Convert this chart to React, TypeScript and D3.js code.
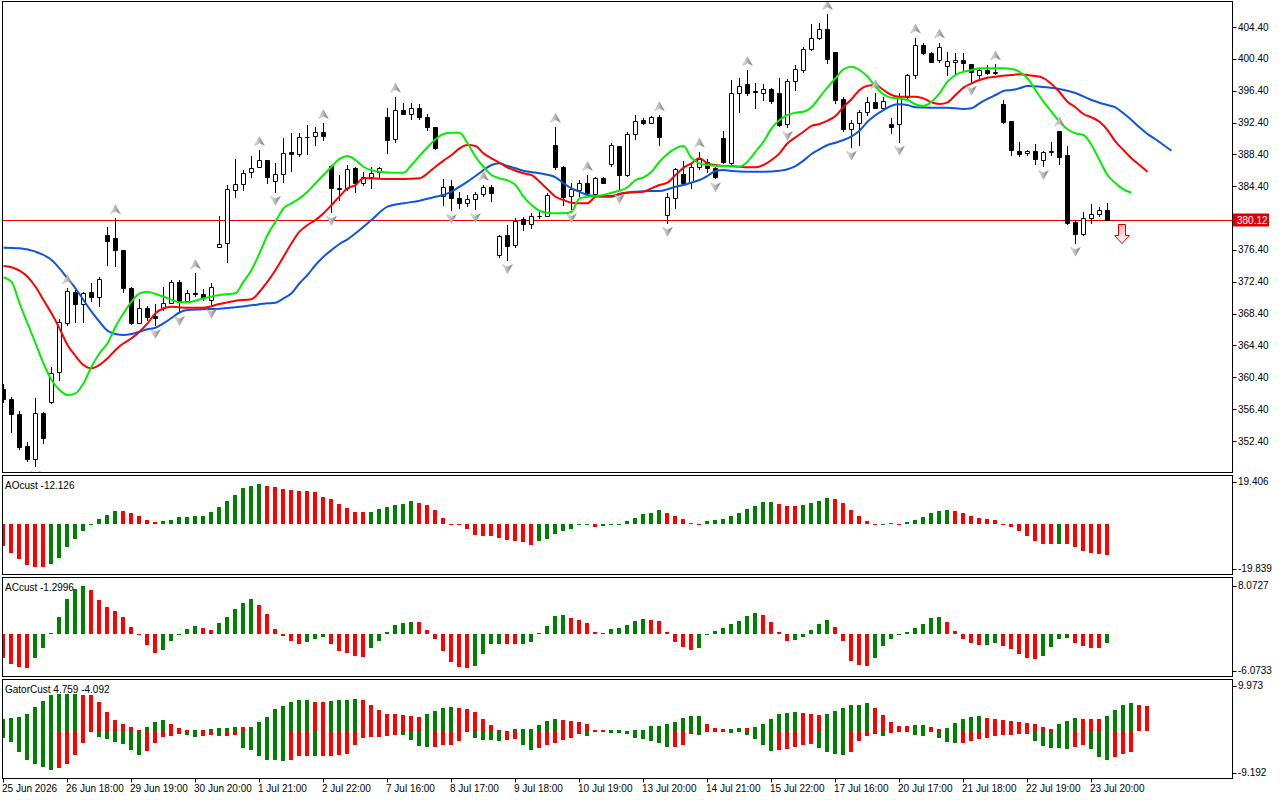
import * as d3 from "d3";

// candles, one per 8px slot
const opens = [358.9,357.65,355.75,351.8,350.1,355.9,357.34,361.1,367.18,371.15,
369.57,371.08,370.5,378.28,377.86,376.4,371.58,367.26,369.07,368.15,
369.07,369.77,372.37,370.02,371.0,370.83,370.1,376.73,377.23,383.93,
384.68,386.15,386.78,387.7,385.06,385.9,388.66,388.45,390.62,390.7,
391.25,386.94,384.2,384.14,386.65,384.77,385.52,386.23,393.06,390.3,
393.98,393.43,394.19,393.06,391.88,383.17,384.43,382.89,382.26,382.76,
383.43,384.34,375.76,378.28,376.98,380.25,379.66,380.6,380.66,389.58,
386.78,383.17,383.93,384.85,383.43,385.4,387.2,389.45,385.81,390.96,
392.72,392.38,393.06,380.79,382.89,385.94,384.97,386.85,387.48,386.65,
390.42,387.36,396.15,397.2,396.3,396.15,396.57,396.07,392.22,397.62,
399.0,401.6,402.98,404.11,401.22,395.36,391.55,392.3,393.69,394.94,
394.26,392.18,392.18,395.65,398.37,402.14,401.1,400.26,399.54,399.97,
400.26,399.72,398.37,399.0,398.58,394.7,392.6,388.83,388.54,388.83,
387.7,388.74,391.34,388.33,379.87,378.36,380.37,380.87,381.42];
const highs = [359.5,357.97,356.2,352.3,357.76,356.0,361.66,367.7,371.58,371.36,
371.15,372.2,372.96,379.32,380.37,376.4,371.7,370.2,369.36,369.57,
371.8,372.62,372.6,371.37,373.46,371.45,372.2,380.66,384.56,387.8,
386.4,388.2,388.95,387.7,387.28,390.42,391.05,391.1,392.1,391.9,
392.3,387.07,385.8,387.07,386.85,386.22,386.85,386.85,394.19,395.65,
394.82,394.82,394.73,393.47,391.9,385.27,385.18,383.72,383.3,383.72,
384.56,384.5,378.3,379.53,380.37,380.58,381.0,381.2,383.5,391.88,
386.94,384.77,385.18,385.8,385.6,385.52,389.8,389.45,391.25,393.35,
393.0,393.22,393.3,383.5,386.65,387.6,387.28,388.74,387.78,386.85,
391.38,397.74,397.96,399.0,397.4,397.24,396.7,397.96,397.83,399.63,
401.93,404.78,404.87,406.03,401.3,395.57,392.72,393.98,395.65,396.07,
395.65,392.93,396.07,398.5,403.06,402.35,401.22,402.45,401.3,401.1,
401.1,399.72,399.21,399.63,399.7,395.23,392.6,390.0,388.95,389.7,
388.87,389.92,391.4,389.45,380.16,381.13,382.17,381.76,382.26];
const lows = [357.3,353.57,351.36,349.9,349.2,352.2,357.2,360.07,366.97,367.4,
367.4,370.0,369.36,374.5,374.4,371.15,367.1,367.18,367.6,366.97,
368.9,369.7,368.6,369.9,370.6,370.1,369.5,376.73,374.92,383.0,
383.93,385.6,386.78,384.77,383.7,384.97,386.35,388.2,388.45,389.6,
390.2,381.2,382.7,383.93,383.7,384.56,384.14,385.6,388.61,390.0,
393.43,392.8,392.8,391.46,389.1,382.04,381.42,381.63,381.9,381.55,
383.17,382.6,375.5,375.14,376.8,378.9,379.1,380.37,380.6,386.52,
382.04,381.5,383.17,383.17,383.17,384.77,386.94,383.93,385.7,390.3,
392.18,392.3,389.58,379.82,381.63,384.56,384.14,386.52,386.22,385.4,
387.28,387.07,393.76,395.86,394.19,395.23,394.82,392.0,391.85,396.49,
398.79,401.51,402.86,399.84,394.82,391.38,389.37,389.6,393.35,394.19,
393.98,391.05,390.0,395.52,397.96,400.97,400.0,400.04,398.37,398.37,
399.0,397.53,398.03,398.46,398.46,392.3,388.33,388.24,388.33,387.2,
386.94,388.33,387.2,379.66,377.31,378.28,379.82,380.66,380.12];
const closes = [357.65,355.75,351.7,350.1,355.9,352.74,360.98,367.4,371.24,369.57,
371.03,370.5,372.7,377.52,376.4,371.58,367.26,369.07,368.0,367.9,
369.77,372.33,369.86,370.95,370.9,370.33,371.78,377.15,384.01,384.68,
386.1,386.65,387.7,385.52,385.9,388.54,388.45,390.62,390.6,391.25,
390.7,384.14,384.1,386.52,384.77,385.6,386.1,386.73,390.2,393.98,
393.45,394.19,393.14,391.8,389.17,384.34,382.89,382.26,382.76,383.43,
384.34,383.5,378.15,376.9,380.07,379.66,380.66,380.66,383.3,386.78,
383.09,384.05,384.85,383.5,385.4,384.85,389.58,385.81,390.96,392.63,
392.3,393.06,390.55,383.0,386.52,384.77,386.78,387.78,386.65,385.52,
387.48,396.15,396.99,396.15,396.28,396.57,395.14,392.09,397.62,399.09,
401.6,402.98,404.11,400.34,395.23,391.55,392.3,393.69,394.94,394.26,
395.1,391.88,395.65,398.4,402.14,401.1,400.04,401.85,400.13,400.26,
399.84,398.79,399.0,398.58,398.79,392.51,388.95,388.41,388.83,387.78,
388.66,388.77,388.11,379.74,378.36,380.37,380.87,381.42,380.12];

// alligator lines as [bar, price], already shifted as drawn
const jaw = [[0,376.68],[2,376.6],[4,376.18],[6,375.13],[7,374.09],[8,372.83],[9,371.58],[10,370.11],[11,368.64],[12,367.38],[13,366.25],[14,365.84],[15,365.71],[16,365.84],[17,366.13],[18,366.43],[19,366.63],[20,367.18],[21,367.85],[22,368.54],[23,368.85],[25,368.94],[27,369.02],[29,369.19],[31,369.44],[33,369.69],[34,369.77],[35,370.32],[36,370.95],[37,372.21],[38,373.25],[39,374.51],[40,375.55],[41,376.39],[42,377.14],[43,377.73],[44,378.49],[46,380.16],[48,381.83],[50,382.26],[52,382.58],[54,383.08],[55,383.3],[56,383.71],[57,384.34],[58,384.97],[59,385.68],[60,386.44],[61,387.07],[62,387.28],[63,386.94],[64,386.65],[65,386.35],[67,386.02],[69,385.52],[70,384.77],[71,384.14],[72,383.71],[73,383.3],[74,383.17],[75,383.08],[76,383.08],[77,383.42],[79,383.71],[81,383.8],[82,383.8],[83,384.01],[84,384.34],[85,384.55],[86,384.87],[87,385.18],[88,385.7],[89,386.31],[90,386.44],[91,386.31],[93,386.22],[95,386.22],[97,386.35],[98,386.53],[99,386.94],[100,387.61],[101,388.45],[102,389.04],[103,389.58],[104,389.87],[105,390.21],[106,390.67],[107,391.37],[108,392.5],[110,393.97],[111,394.51],[112,394.69],[113,394.6],[114,394.31],[116,394.26],[118,394.26],[120,394.1],[121,394.19],[122,394.82],[123,395.36],[124,395.86],[125,396.36],[126,396.49],[127,396.7],[128,396.99],[130,396.86],[132,396.61],[134,396.11],[136,395.23],[137,394.89],[138,394.6],[139,394.31],[140,393.56],[141,392.72],[142,391.8],[143,390.96],[144,390.3],[145,389.58],[146,388.86]];
const teeth = [[0,374.38],[1,374.22],[2,373.79],[3,373.04],[4,371.78],[5,370.11],[6,368.44],[7,366.55],[8,364.46],[9,363.08],[10,361.95],[11,361.53],[12,361.95],[13,362.79],[14,363.83],[15,364.67],[16,365.3],[17,366.13],[18,367.18],[19,368.44],[20,369.07],[21,369.27],[22,369.19],[23,369.14],[25,369.14],[27,369.61],[29,370.02],[31,370.2],[32,371.15],[33,372.41],[34,373.88],[35,375.55],[36,377.23],[37,378.69],[38,379.53],[39,380.16],[40,381.0],[41,382.04],[42,383.12],[43,384.14],[44,384.55],[45,385.39],[46,385.39],[48,385.31],[50,385.31],[52,385.39],[53,386.02],[54,386.85],[55,387.61],[56,388.32],[57,389.16],[58,389.58],[59,389.45],[60,388.53],[61,387.91],[62,387.35],[63,386.75],[64,386.35],[65,386.02],[66,385.81],[67,384.97],[68,384.01],[69,383.08],[70,382.67],[71,382.33],[72,382.26],[73,382.26],[74,383.08],[75,383.17],[76,383.17],[77,383.42],[78,383.59],[80,383.71],[81,384.14],[82,384.55],[83,384.84],[84,385.81],[85,386.71],[86,387.28],[87,387.91],[88,387.28],[89,387.07],[90,386.94],[91,386.94],[92,386.85],[93,386.78],[94,386.78],[95,387.07],[96,387.69],[97,388.53],[98,389.79],[99,390.55],[100,391.25],[101,391.97],[102,392.22],[103,392.63],[104,393.22],[105,394.39],[106,395.33],[107,396.49],[108,397.03],[109,397.11],[110,396.49],[111,395.86],[112,395.65],[114,395.65],[115,395.44],[116,394.94],[117,394.73],[118,394.94],[119,395.86],[120,396.78],[121,397.33],[122,397.74],[123,398.03],[124,398.16],[125,398.28],[126,398.37],[127,398.46],[128,398.37],[129,398.24],[130,397.99],[131,397.24],[132,396.23],[133,395.02],[134,394.31],[135,393.47],[136,393.06],[137,392.5],[138,391.46],[139,389.99],[140,388.95],[141,387.91],[142,387.07],[143,386.22]];
const lips = [[0,372.96],[1,372.41],[2,369.7],[3,367.18],[4,364.67],[5,362.16],[6,360.06],[7,358.81],[8,358.18],[9,358.39],[10,359.65],[11,361.73],[12,363.42],[13,364.67],[14,366.76],[15,368.44],[16,369.9],[17,370.95],[18,371.15],[19,370.86],[20,370.52],[21,370.16],[22,369.83],[23,369.82],[25,370.32],[27,370.74],[29,370.95],[30,372.41],[31,373.88],[32,375.98],[33,378.27],[34,379.94],[35,381.63],[36,382.26],[37,382.88],[38,383.71],[39,384.77],[40,385.81],[41,386.85],[42,387.84],[43,388.2],[44,387.69],[45,386.85],[47,386.22],[49,386.1],[50,386.1],[51,387.07],[52,388.2],[53,389.29],[54,390.29],[55,390.96],[56,391.12],[57,391.12],[58,389.79],[59,388.11],[60,386.85],[61,385.81],[62,385.39],[63,385.13],[64,384.55],[65,383.08],[66,382.04],[67,381.32],[68,381.07],[69,381.0],[70,381.0],[71,381.2],[72,382.88],[73,383.08],[74,383.17],[75,383.3],[76,383.59],[77,383.84],[78,384.27],[79,385.18],[80,385.52],[81,386.22],[82,387.48],[83,388.45],[84,389.16],[85,389.45],[86,387.94],[87,387.28],[88,387.07],[89,386.98],[90,386.94],[92,386.85],[93,387.48],[94,388.74],[95,389.99],[96,391.67],[97,392.72],[98,393.35],[99,393.63],[100,393.76],[101,394.31],[102,395.57],[103,396.82],[104,397.96],[105,399.09],[106,399.41],[107,399.0],[108,398.16],[109,396.9],[110,395.95],[111,395.52],[112,395.44],[113,395.23],[114,394.69],[115,394.48],[116,395.02],[117,396.07],[118,397.53],[119,398.37],[120,398.78],[121,399.0],[122,399.21],[123,399.21],[125,399.21],[126,399.12],[127,398.78],[128,397.96],[129,396.49],[130,395.02],[131,393.76],[132,392.5],[133,391.55],[134,391.05],[135,390.83],[136,389.58],[137,387.69],[138,385.81],[139,384.77],[140,384.01],[141,383.59]];

const fractalUp = [8,14,24,32,40,49,60,69,73,82,87,93,103,109,114,117,124,132];
const fractalDown = [4,19,22,26,34,41,56,59,63,71,77,83,89,98,106,112,121,130,134];

const lastPrice = 380.12;
const signalBar = 140;
const signalPrice = 379.66;

const aoValues = [-8.7,-11.3,-13.6,-16.0,-16.7,-16.8,-15.6,-13.1,-9.1,-5.6,
-2.4,0.3,2.0,3.6,5.3,5.2,4.7,3.2,1.6,0.8,
1.2,1.6,2.9,3.1,3.2,3.3,4.8,6.9,9.3,11.6,
14.4,15.4,16.0,15.1,14.7,13.9,13.6,13.4,13.1,12.7,
10.9,10.0,8.3,6.7,5.1,4.9,5.1,6.0,6.9,7.7,
8.3,9.1,8.7,7.7,5.6,2.7,0.3,-0.2,-2.0,-4.0,
-4.4,-4.5,-5.3,-6.0,-6.7,-7.1,-8.0,-6.7,-5.6,-3.6,
-2.7,-1.7,-0.4,-0.27,-1.1,-0.7,-0.3,0.13,1.2,2.4,
4.0,4.4,5.6,4.4,3.2,2.0,0.7,-0.4,1.2,1.6,
2.0,3.2,4.4,6.0,7.5,8.8,8.85,8.0,7.2,7.15,
7.6,8.4,9.3,10.4,10.1,8.4,5.6,3.2,1.2,0.27,
0.33,0.4,0.27,0.8,1.6,2.9,4.4,5.3,5.6,5.2,
4.4,3.2,2.4,2.0,1.6,-0.27,-1.1,-2.7,-4.7,-6.7,
-7.6,-7.9,-7.6,-7.9,-9.1,-10.4,-11.2,-11.9,-12.126];
const aoColors = ("RRRRRRGGGG GGGGGRRRRR GGGGGGGGGG GGGRRRRRRR RRRRRRGGGG GGRRRRRRRR RRRRRRRGGG " +
  "GGGGRGGGGG GGGRRRRRGG GGGGGGGRRR GGGGRRRRRR GGRGGGGGGR RRRRRRRRRR RRGRRRRRR").replace(/ /g, "");

const acValues = [-3.37,-4.33,-4.76,-4.91,-3.46,-2.02,0.14,2.45,5.05,6.4,
6.88,6.3,4.86,3.85,3.27,2.4,0.96,-0.14,-1.64,-2.74,
-2.26,-0.96,-0.14,0.72,1.1,0.87,0.53,1.59,2.45,3.6,
4.48,5.05,4.14,2.89,0.72,-0.34,-1.06,-1.44,-1.15,-0.72,
-0.43,-1.44,-2.36,-2.74,-3.08,-3.22,-2.02,-1.06,0.24,1.25,
1.54,1.68,1.66,0.53,-0.72,-2.5,-3.95,-4.76,-4.91,-4.52,
-2.89,-1.44,-1.42,-1.46,-1.5,-1.45,-1.15,0.1,1.1,2.55,
2.7,2.28,2.02,1.59,0.24,0.1,0.72,0.87,1.3,1.92,
2.17,2.02,1.92,0.24,-1.1,-1.83,-2.26,-2.02,-0.1,0.4,
0.85,1.44,1.92,2.55,3.03,2.74,1.68,0.24,-0.96,-0.82,
-0.48,0.58,1.44,2.02,0.96,-0.96,-3.8,-4.43,-4.52,-3.46,
-1.78,-0.72,-0.1,0.24,0.82,1.4,2.26,2.41,1.68,0.38,
-0.72,-1.3,-1.64,-1.62,-1.3,-1.78,-2.17,-2.89,-3.37,-3.61,
-3.08,-1.88,-0.72,-0.58,-1.3,-1.78,-2.02,-2.05,-1.2996];
const acColors = ("RRRRGGGGGG GRRRRRRRRR GGGGGRRGGG GGRRRRRRGG GRRRRRGGGG GGRRRRRRRG GGGRRGGGGG " +
  "GRRRRRGGGG GRRRRRRGGG GGGGGRRRRG GGGGRRRRRG GGGGGGGGRR RRRGGRRRRR GGGGRRRRG").replace(/ /g, "");

const gatorUp = [2.28,2.48,2.74,3.39,4.56,5.87,7.04,7.17,7.19,7.21,
7.05,7.04,5.67,3.6,2.15,1.43,0.78,0.2,0.78,1.76,
2.15,1.43,0.52,0.2,0.25,0.2,0.35,0.55,0.6,0.78,
0.75,0.8,1.83,2.74,4.24,4.89,5.67,6.06,6.08,5.67,
5.66,5.87,6.06,6.07,6.26,6.06,5.09,4.1,3.33,3.32,
3.13,2.93,2.74,3.33,3.91,4.5,4.69,4.5,4.3,3.72,
2.35,1.17,0.2,0.05,0.39,0.4,0.41,1.17,1.96,2.35,
2.15,1.96,1.7,1.3,0.2,0.15,0.16,0.2,0.1,0.12,
0.2,0.9,1.04,1.37,1.7,2.5,2.9,2.95,1.45,0.65,
0.3,0.45,0.6,0.5,0.7,1.3,2.3,3.2,3.45,3.7,
3.5,3.3,3.15,3.3,3.9,4.5,5.0,5.1,5.35,4.5,
3.13,1.76,0.98,0.97,1.17,1.18,0.78,0.39,0.59,1.56,
2.35,2.74,2.93,2.54,2.35,2.15,1.96,1.76,1.56,1.37,
0.78,0.39,1.37,1.96,2.5,2.4,2.35,2.3,2.93,4.1,
5.1,5.48,5.08,4.759];
const gatorUpColors = ("GGGGGGGGGG RRRRRRRRGG GRRRGRGGGG RGGGGGGGGR RGGGGRRRRR RRRGGGGRRR RRRRGGGGGG " +
  "RRRRRRGGRG GGGGGGGGRR RGGRGGGGGG RRRGGGGGGR RRRRGGRRGG GGGRRRRRRR RRGGGRRRGG GGRR").replace(/ /g, "");

const gatorDown = [-1.3,-2.09,-4.04,-5.54,-6.39,-7.04,-7.5,-7.17,-6.32,-4.56,
-2.41,-0.13,-1.17,-1.5,-2.09,-2.48,-3.59,-4.69,-3.9,-2.28,
-1.1,-0.9,-0.5,-0.75,-1.1,-1.0,-0.8,-1.0,-0.9,-0.8,
-3.3,-3.6,-4.76,-5.54,-5.67,-5.87,-5.54,-4.89,-4.88,-4.9,
-4.88,-4.87,-4.69,-4.43,-2.74,-1.37,-1.17,-1.1,-0.98,-0.78,
-0.79,-1.76,-2.93,-3.13,-3.12,-2.74,-2.7,-1.96,-0.2,-1.37,
-1.76,-1.77,-1.96,-1.76,-1.56,-2.74,-3.72,-3.33,-2.74,-2.35,
-1.76,-1.37,-0.52,-0.98,-0.2,-0.15,-0.4,-0.42,-0.55,-1.3,
-1.63,-2.0,-2.4,-3.06,-3.0,-2.7,-0.5,-0.7,-0.15,-0.1,
-0.15,-0.3,-0.25,-0.7,-1.63,-2.74,-3.9,-3.7,-3.4,-3.1,
-2.7,-2.5,-3.3,-4.1,-4.5,-4.6,-4.0,-2.0,-0.98,-0.52,
-0.98,-0.33,-0.2,-0.19,-0.78,-0.98,-0.2,-1.37,-2.15,-2.35,
-2.34,-1.96,-1.56,-1.37,-0.98,-0.78,-0.77,-0.59,-0.58,-1.96,
-2.93,-3.33,-3.34,-3.52,-3.13,-2.74,-3.52,-5.09,-5.67,-5.09,
-4.5,-4.092];
const gatorDownColors = ("GGGGGGGRRR RRGGGGGGRR RRRGGRRGRR GGGGGGRRRG RRRRRRRRRR GGGGRRRRRG GGGRRGGRRR " +
  "RRRGRRGGGG GGGGRRRGRR GGRGGGGRRR RRGGGGRRRR GRRRGGRGGG RRRRRRRRRG GGGGRRGGGR RR").replace(/ /g, "");

// time axis, one label every 8 bars
const timeLabels = ["25 Jun 2026","26 Jun 18:00","29 Jun 19:00","30 Jun 20:00","1 Jul 21:00","2 Jul 22:00",
  "7 Jul 16:00","8 Jul 17:00","9 Jul 18:00","10 Jul 19:00","13 Jul 20:00","14 Jul 21:00","15 Jul 22:00",
  "17 Jul 16:00","20 Jul 17:00","21 Jul 18:00","22 Jul 19:00","23 Jul 20:00"];
const priceTicks = [404.4,400.4,396.4,392.4,388.4,384.4,380.4,376.4,372.4,368.4,364.4,360.4,356.4,352.4];

const LEFT = 2.5;
const RIGHT = 1232.5;
const MAIN = { top: 1.5, bottom: 472.5 };
const AO_P = { top: 475.5, bottom: 574.5 };
const AC_P = { top: 577.5, bottom: 676.5 };
const GA_P = { top: 679.5, bottom: 778.5 };

const UP = "#008000";
const DN = "#ff0000";
const FONT = "'Liberation Sans', Arial, sans-serif";

const xBar = d3.scaleLinear().domain([0, 1]).range([3.5, 11.5]);
const yPrice = d3.scaleLinear().domain([352.4, 404.4]).range([441, 27]);
const yAO = d3.scaleLinear().domain([-19.839, 19.406]).range([AO_P.bottom, AO_P.top]);
const yAC = d3.scaleLinear().domain([-6.0733, 8.0727]).range([AC_P.bottom, AC_P.top]);
const yGA = d3.scaleLinear().domain([-9.192, 9.973]).range([GA_P.bottom, GA_P.top]);

const lineGen = d3
  .line<number[]>()
  .x((d) => xBar(d[0]))
  .y((d) => yPrice(d[1]))
  .curve(d3.curveMonotoneX);

function Histogram({ values, colors, y, clip }: any) {
  const zero = Math.round(y(0));
  return (
    <g clipPath={`url(#${clip})`}>
      {values.map((v: number, i: number) => {
        const yv = Math.round(y(v));
        const top = Math.min(zero, yv);
        const h = Math.max(1, Math.abs(zero - yv));
        return (
          <rect key={i} x={xBar(i) - 2.5} y={top} width={4} height={h}
            fill={colors[i] === "G" ? UP : DN} />
        );
      })}
    </g>
  );
}

function Panel({ p, id }: any) {
  return (
    <>
      <clipPath id={id}>
        <rect x={LEFT + 0.5} y={p.top + 0.5} width={RIGHT - LEFT - 1} height={p.bottom - p.top - 1} />
      </clipPath>
    </>
  );
}

function SideLabel({ y, text }: any) {
  return (
    <g>
      <line x1={RIGHT} x2={RIGHT + 4} y1={Math.round(y) + 0.5} y2={Math.round(y) + 0.5} stroke="#000" />
      <text x={1238} y={y + 3.5} fontSize={10} fontFamily={FONT}>{text}</text>
    </g>
  );
}

export default function App() {
  const priceY = Math.round(yPrice(lastPrice)) + 0.5;
  const sigX = xBar(signalBar) - 1.5;
  const sigY = Math.round(yPrice(signalPrice));

  return (
    <div style={{ position: "absolute", left: 0, top: 0 }}>
      <svg width={1280} height={800} style={{ display: "block", background: "#fff" }}>
        <defs>
          <linearGradient id="frac" x1="0" x2="1" y1="0" y2="0">
            <stop offset="0" stopColor="#f0f0f0" />
            <stop offset="0.5" stopColor="#b4b4b4" />
            <stop offset="1" stopColor="#6e6e6e" />
          </linearGradient>
          <linearGradient id="sig" x1="0" x2="0" y1="0" y2="1">
            <stop offset="0" stopColor="#ffb0b0" />
            <stop offset="1" stopColor="#ffffff" />
          </linearGradient>
          <Panel p={MAIN} id="cMain" />
          <Panel p={AO_P} id="cAO" />
          <Panel p={AC_P} id="cAC" />
          <Panel p={GA_P} id="cGA" />
        </defs>

        {/* main price window */}
        <g clipPath="url(#cMain)">
          <line x1={LEFT} x2={RIGHT} y1={priceY} y2={priceY} stroke="#e00000" />
          {opens.map((o, i) => {
            const cx = xBar(i);
            const c = closes[i];
            const yTop = Math.round(yPrice(Math.max(o, c))) + 0.5;
            const yBot = Math.round(yPrice(Math.min(o, c))) + 0.5;
            return (
              <g key={i}>
                <line x1={cx} x2={cx} y1={Math.round(yPrice(highs[i]))} y2={Math.round(yPrice(lows[i])) + 1} stroke="#000" />
                <path d={`M${cx - 2},${yTop}H${cx + 2}V${yBot}H${cx - 2}Z`}
                  fill={c >= o ? "#fff" : "#000"} stroke="#000" />
              </g>
            );
          })}
          <path d={lineGen(jaw) || ""} fill="none" stroke="#0f55d8" strokeWidth={2} />
          <path d={lineGen(teeth) || ""} fill="none" stroke="#ff0000" strokeWidth={2} />
          <path d={lineGen(lips) || ""} fill="none" stroke="#00ee00" strokeWidth={2} />
          {fractalUp.map((i) => (
            <path key={"u" + i} transform={`translate(${xBar(i)},${yPrice(highs[i]) - 9})`}
              d="M0,-4.5L5,4.5L0,2L-5,4.5Z" fill="url(#frac)" stroke="#9a9a9a" strokeWidth={0.4} />
          ))}
          {fractalDown.map((i) => (
            <path key={"d" + i} transform={`translate(${xBar(i)},${yPrice(lows[i]) + 9})`}
              d="M0,4.5L5,-4.5L0,-2L-5,-4.5Z" fill="url(#frac)" stroke="#9a9a9a" strokeWidth={0.4} />
          ))}
          <path transform={`translate(${sigX},${sigY + 0.5})`}
            d="M-3.5,0H3.5V11H7.5L0,19L-7.5,11H-3.5Z" fill="url(#sig)" stroke="#e00000" />
        </g>

        {/* oscillator windows */}
        <Histogram values={aoValues} colors={aoColors} y={yAO} clip="cAO" />
        <Histogram values={acValues} colors={acColors} y={yAC} clip="cAC" />
        <Histogram values={gatorUp} colors={gatorUpColors} y={yGA} clip="cGA" />
        <Histogram values={gatorDown} colors={gatorDownColors} y={yGA} clip="cGA" />

        {/* frames */}
        {[MAIN, AO_P, AC_P, GA_P].map((p, k) => (
          <rect key={k} x={LEFT} y={p.top} width={RIGHT - LEFT} height={p.bottom - p.top}
            fill="none" stroke="#000" />
        ))}

        {/* price scale */}
        {priceTicks.map((t) => (
          <SideLabel key={t} y={yPrice(t)} text={t.toFixed(2)} />
        ))}
        <rect x={RIGHT + 0.5} y={priceY - 7} width={36} height={13} fill="#e00000" />
        <text x={1237} y={priceY + 3.5} fontSize={10} fontFamily={FONT} fill="#fff">
          {lastPrice.toFixed(2)}
        </text>

        <SideLabel y={AO_P.top + 6} text="19.406" />
        <SideLabel y={AO_P.bottom - 6} text="-19.839" />
        <SideLabel y={AC_P.top + 8} text="8.0727" />
        <SideLabel y={AC_P.bottom - 6} text="-6.0733" />
        <SideLabel y={GA_P.top + 6} text="9.973" />
        <SideLabel y={GA_P.bottom - 6} text="-9.192" />

        <text x={5} y={AO_P.top + 13} fontSize={10} fontFamily={FONT}>AOcust -12.126</text>
        <text x={5} y={AC_P.top + 13} fontSize={10} fontFamily={FONT}>ACcust -1.2996</text>
        <text x={5} y={GA_P.top + 13} fontSize={10} fontFamily={FONT}>GatorCust 4.759 -4.092</text>

        {/* time scale */}
        {timeLabels.map((t, k) => {
          const x = xBar(k * 8);
          return (
            <g key={t}>
              <line x1={x} x2={x} y1={GA_P.bottom} y2={GA_P.bottom + 4} stroke="#000" />
              <text x={x - 1.5} y={792} fontSize={10} fontFamily={FONT}>{t}</text>
            </g>
          );
        })}
      </svg>
    </div>
  );
}
